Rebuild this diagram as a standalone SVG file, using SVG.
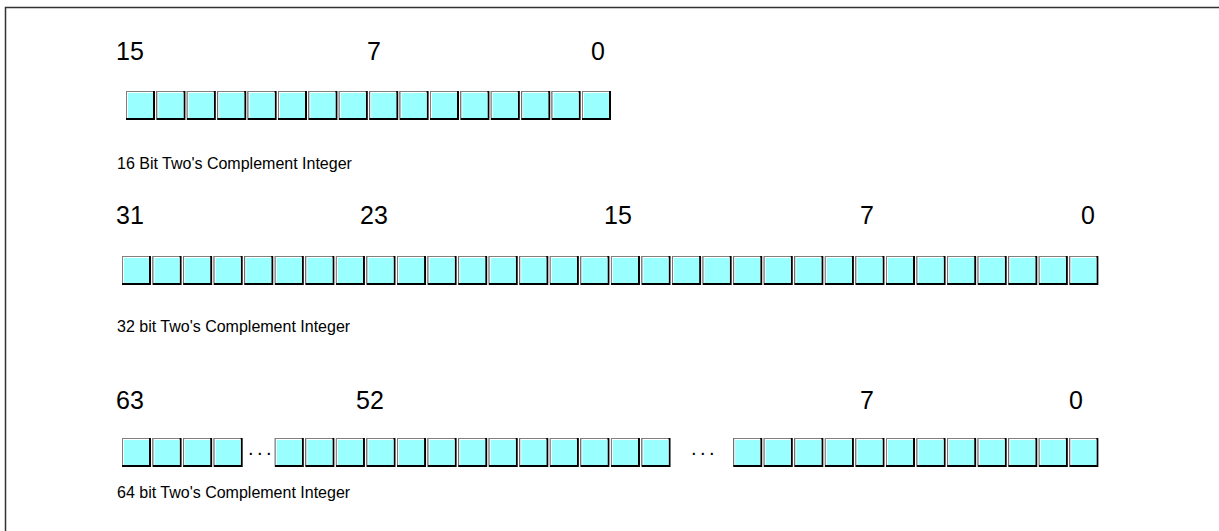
<svg xmlns="http://www.w3.org/2000/svg" xmlns:xlink="http://www.w3.org/1999/xlink" width="1219" height="531" viewBox="0 0 1219 531">
<style>
.num{font-family:"Liberation Sans",Arial,sans-serif;font-size:25px;fill:#000}
.lbl{font-family:"Liberation Sans",Arial,sans-serif;font-size:16px;fill:#000}
.dots{font-family:"Liberation Sans",Arial,sans-serif;font-size:20px;fill:#000;letter-spacing:3.5px}
</style>
<defs>
<g id="cell">
<rect x="0" y="0" width="29" height="29" fill="#000"/>
<rect x="0" y="0" width="27" height="27" fill="#808080"/>
<rect x="1" y="1" width="26" height="26" fill="#fff"/>
<rect x="2" y="2" width="25" height="25" fill="#99ffff"/>
</g>
</defs>
<rect width="1219" height="531" fill="#fff"/>
<rect x="5.5" y="7.5" width="1230" height="540" fill="none" stroke="#333" stroke-width="1.5"/>
<g id="connectors"/>
<g id="row16">
<text class="num" x="116" y="60">15</text>
<text class="num" x="367" y="60">7</text>
<text class="num" x="591" y="60">0</text>
<g id="cells16">
<use xlink:href="#cell" x="126" y="91"/><use xlink:href="#cell" x="156.4" y="91"/><use xlink:href="#cell" x="186.8" y="91"/><use xlink:href="#cell" x="217.2" y="91"/>
<use xlink:href="#cell" x="247.6" y="91"/><use xlink:href="#cell" x="278" y="91"/><use xlink:href="#cell" x="308.4" y="91"/><use xlink:href="#cell" x="338.8" y="91"/>
<use xlink:href="#cell" x="369.2" y="91"/><use xlink:href="#cell" x="399.6" y="91"/><use xlink:href="#cell" x="430" y="91"/><use xlink:href="#cell" x="460.4" y="91"/>
<use xlink:href="#cell" x="490.8" y="91"/><use xlink:href="#cell" x="521.2" y="91"/><use xlink:href="#cell" x="551.6" y="91"/><use xlink:href="#cell" x="582" y="91"/>
</g>
<text class="lbl" x="117" y="169">16 Bit Two's Complement Integer</text>
</g>
<g id="row32">
<text class="num" x="116" y="224">31</text>
<text class="num" x="360" y="224">23</text>
<text class="num" x="604" y="224">15</text>
<text class="num" x="860" y="224">7</text>
<text class="num" x="1081" y="224">0</text>
<g id="cells32">
<use xlink:href="#cell" x="122" y="256"/><use xlink:href="#cell" x="152.56" y="256"/><use xlink:href="#cell" x="183.12" y="256"/><use xlink:href="#cell" x="213.68" y="256"/>
<use xlink:href="#cell" x="244.24" y="256"/><use xlink:href="#cell" x="274.8" y="256"/><use xlink:href="#cell" x="305.36" y="256"/><use xlink:href="#cell" x="335.92" y="256"/>
<use xlink:href="#cell" x="366.48" y="256"/><use xlink:href="#cell" x="397.04" y="256"/><use xlink:href="#cell" x="427.6" y="256"/><use xlink:href="#cell" x="458.16" y="256"/>
<use xlink:href="#cell" x="488.72" y="256"/><use xlink:href="#cell" x="519.28" y="256"/><use xlink:href="#cell" x="549.84" y="256"/><use xlink:href="#cell" x="580.4" y="256"/>
<use xlink:href="#cell" x="610.96" y="256"/><use xlink:href="#cell" x="641.52" y="256"/><use xlink:href="#cell" x="672.08" y="256"/><use xlink:href="#cell" x="702.64" y="256"/>
<use xlink:href="#cell" x="733.2" y="256"/><use xlink:href="#cell" x="763.76" y="256"/><use xlink:href="#cell" x="794.32" y="256"/><use xlink:href="#cell" x="824.88" y="256"/>
<use xlink:href="#cell" x="855.44" y="256"/><use xlink:href="#cell" x="886" y="256"/><use xlink:href="#cell" x="916.56" y="256"/><use xlink:href="#cell" x="947.12" y="256"/>
<use xlink:href="#cell" x="977.68" y="256"/><use xlink:href="#cell" x="1008.24" y="256"/><use xlink:href="#cell" x="1038.8" y="256"/><use xlink:href="#cell" x="1069.36" y="256"/>
</g>
<text class="lbl" x="117" y="332">32 bit Two's Complement Integer</text>
</g>
<g id="row64">
<text class="num" x="116" y="409">63</text>
<text class="num" x="356" y="409">52</text>
<text class="num" x="860" y="409">7</text>
<text class="num" x="1069" y="409">0</text>
<g id="cells64">
<use xlink:href="#cell" x="122" y="438"/><use xlink:href="#cell" x="152.56" y="438"/><use xlink:href="#cell" x="183.12" y="438"/><use xlink:href="#cell" x="213.68" y="438"/>
<text class="dots" x="248" y="455">...</text>
<use xlink:href="#cell" x="274.8" y="438"/><use xlink:href="#cell" x="305.36" y="438"/><use xlink:href="#cell" x="335.92" y="438"/>
<use xlink:href="#cell" x="366.48" y="438"/><use xlink:href="#cell" x="397.04" y="438"/><use xlink:href="#cell" x="427.6" y="438"/><use xlink:href="#cell" x="458.16" y="438"/>
<use xlink:href="#cell" x="488.72" y="438"/><use xlink:href="#cell" x="519.28" y="438"/><use xlink:href="#cell" x="549.84" y="438"/><use xlink:href="#cell" x="580.4" y="438"/>
<use xlink:href="#cell" x="610.96" y="438"/><use xlink:href="#cell" x="641.52" y="438"/>
<text class="dots" x="691" y="455">...</text>
<use xlink:href="#cell" x="733.2" y="438"/><use xlink:href="#cell" x="763.76" y="438"/><use xlink:href="#cell" x="794.32" y="438"/><use xlink:href="#cell" x="824.88" y="438"/>
<use xlink:href="#cell" x="855.44" y="438"/><use xlink:href="#cell" x="886" y="438"/><use xlink:href="#cell" x="916.56" y="438"/><use xlink:href="#cell" x="947.12" y="438"/>
<use xlink:href="#cell" x="977.68" y="438"/><use xlink:href="#cell" x="1008.24" y="438"/><use xlink:href="#cell" x="1038.8" y="438"/><use xlink:href="#cell" x="1069.36" y="438"/>
</g>
<text class="lbl" x="117" y="498">64 bit Two's Complement Integer</text>
</g>
</svg>
